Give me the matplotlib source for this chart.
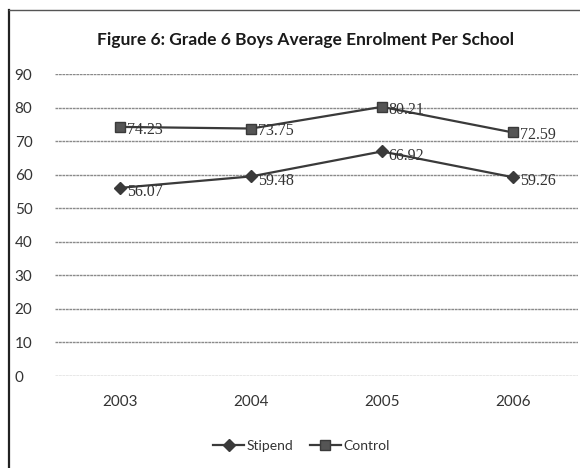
import matplotlib
matplotlib.use("Agg")
import matplotlib.pyplot as plt
from matplotlib.lines import Line2D

years = ["2003", "2004", "2005", "2006"]
stipend = [56.07, 59.48, 66.92, 59.26]
control = [74.23, 73.75, 80.21, 72.59]
yticks = [0, 10, 20, 30, 40, 50, 60, 70, 80, 90]

plt.rcParams['font.family'] = ['Lato', 'DejaVu Sans']
ink = "#333333"

fig = plt.figure(figsize=(5.8, 4.68), dpi=100)
fig.patch.set_facecolor("white")

# chart frame: left and top edges
fig.add_artist(Line2D([9/580, 9/580], [0, 458/468], color="#222222", lw=1.6,
                      transform=fig.transFigure))
fig.add_artist(Line2D([9/580, 1], [458/468, 458/468], color="#555555", lw=1.0,
                      transform=fig.transFigure))

ax = fig.add_axes([55/580, 92/468, 523/580, 302/468])
x = range(len(years))

ax.plot(x, stipend, color="#3a3a3a", lw=1.6, marker="D", markersize=6,
        label="Stipend", zorder=3)
ax.plot(x, control, color="#3a3a3a", lw=1.6, marker="s", markersize=7.5,
        markerfacecolor="#555555", label="Control", zorder=3)

for i, v in enumerate(stipend):
    ax.annotate(f"{v:.2f}", (i, v), xytext=(5, -3), textcoords="offset points",
                ha="left", va="center", fontsize=11.5, color=ink,
                family="Liberation Serif")
for i, v in enumerate(control):
    ax.annotate(f"{v:.2f}", (i, v), xytext=(5, -2), textcoords="offset points",
                ha="left", va="center", fontsize=11.5, color=ink,
                family="Liberation Serif")

ax.set_xlim(-0.5, len(years) - 0.5)
ax.set_ylim(0, 90)
ax.set_yticks(yticks)
ax.set_xticks(list(x))
ax.set_xticklabels(years)
ax.yaxis.grid(True, color="#8a8a8a", lw=1.0, linestyle=(0, (2, 0.5)))
ax.set_axisbelow(True)
for s in ax.spines.values():
    s.set_visible(False)
ax.tick_params(axis="both", length=0, colors=ink, labelsize=11)
ax.tick_params(axis="y", pad=29)
ax.tick_params(axis="x", pad=14)
for lbl in ax.get_yticklabels():
    lbl.set_ha("left")

fig.text(0.527, 0.915, "Figure 6: Grade 6 Boys Average Enrolment Per School",
         ha="center", va="center", fontsize=12.5, fontweight="bold", color="#1a1a1a")

fig.legend(loc="center", bbox_to_anchor=(0.52, 0.048), ncol=2, frameon=False,
           fontsize=10, handlelength=2.2, columnspacing=1.2, handletextpad=0.2,
           labelcolor=ink)

fig.savefig("out.png", dpi=100)
